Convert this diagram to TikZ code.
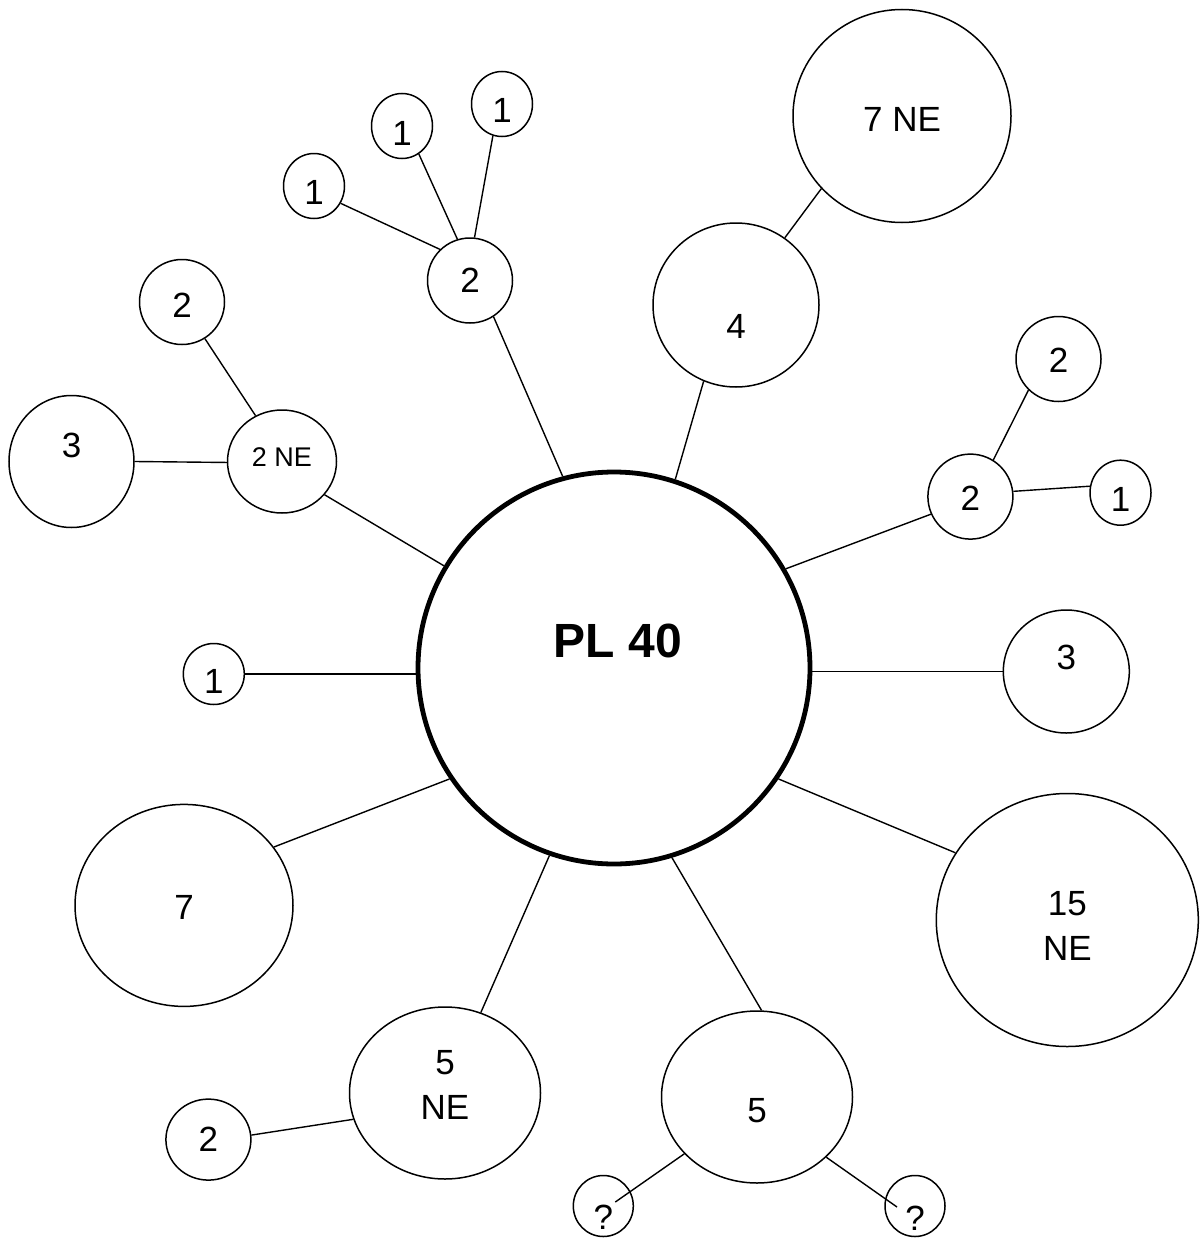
\documentclass[tikz,border=0pt]{standalone}
\usepackage{fontspec}
\setmainfont{Liberation Sans}
\usepackage{tikz}
\usetikzlibrary{calc, positioning, shapes.geometric}
\tikzset{
    hub/.style={circle, draw=black, line width=4.8pt, inner sep=0pt, minimum size=392pt},
    bubble/.style 2 args={ellipse, draw=black, line width=1.5pt, inner sep=0pt, minimum width=#1pt, minimum height=#2pt},
    lbl/.style={font=\fontsize{35}{45}\selectfont, align=center, inner sep=0pt},
    smalltxt/.style={font=\fontsize{27}{32}\selectfont},
    bigtxt/.style={font=\fontsize{48}{58}\selectfont\bfseries},
    txt/.style 2 args={label={[lbl, yshift={-1pt*(#2)}]center:{#1}}},
    conn/.style={line width=1.4pt}
}

\begin{document}
\begin{tikzpicture}[x=1pt, y=-1pt]
    \useasboundingbox (0,0) rectangle (1200,1239);

    % Centre
    \node[hub, label={[lbl, bigtxt, xshift=4pt, yshift=27pt]center:PL 40}] (pl) at (614,668) {};

    % Upper left branch
    \node[bubble={85}{85}, txt={2}{0}] (two) at (470,280.5) {};
    \node[bubble={61}{65}, txt={1}{6.5}] (oneA) at (314,186) {};
    \node[bubble={61}{65}, txt={1}{7}] (oneB) at (402,126) {};
    \node[bubble={61}{65}, txt={1}{6}] (oneC) at (502,104) {};
    \node[bubble={109}{103}, label={[lbl, smalltxt, yshift=4.5pt]center:2 NE}] (twoNE) at (282,461.5) {};
    \node[bubble={85}{85}, txt={2}{3}] (twoTL) at (182,302) {};
    \node[bubble={125}{132}, txt={3}{-16}] (threeL) at (71.5,461.5) {};

    % Upper right branch
    \node[bubble={166}{164}, txt={4}{21}] (four) at (736,305) {};
    \node[bubble={218}{213}, txt={7 NE}{3}] (sevenNE) at (902,116) {};
    \node[bubble={85}{85}, txt={2}{1.5}] (twoR) at (970.4,496.6) {};
    \node[bubble={85}{85}, txt={2}{1}] (twoUR) at (1058.5,359) {};
    \node[bubble={61}{65}, txt={1}{7}] (oneR) at (1120.5,492.7) {};

    % Left and lower branches
    \node[bubble={61}{61}, txt={1}{7}] (oneL) at (213.8,674) {};
    \node[bubble={218}{202}, txt={7}{2}] (seven) at (184,905.4) {};
    \node[bubble={191}{172}, txt={5\\NE}{-8}] (fiveNE) at (445,1093) {};
    \node[bubble={85}{81}, txt={2}{0}] (twoBL) at (208.4,1139.6) {};
    \node[bubble={191}{172}, txt={5}{14}] (five) at (757,1097) {};
    \node[bubble={60}{61}, txt={?}{11}] (qL) at (603.3,1206) {};
    \node[bubble={60}{61}, txt={?}{12}] (qR) at (915,1206) {};

    % Right branch
    \node[bubble={126}{123}, txt={3}{-14}] (threeR) at (1066.3,671.5) {};
    \node[bubble={262}{253}, txt={15\\NE}{6}] (fifteen) at (1067.3,920) {};

    % Connectors
    \draw[conn] (pl.105.6) -- (two.303);
    \draw[conn] (two.134.2) -- (oneA.327);
    \draw[conn] (two.107.8) -- (oneB.301.5);
    \draw[conn] (two.84.2) -- (oneC.254.7);
    \draw[conn] (pl.72.6) -- (four.247.6);
    \draw[conn] (four.54.9) -- (sevenNE.222.8);
    \draw[conn] (pl.149.6) -- (twoNE.322.6);
    \draw[conn] (twoNE.120.1) -- (twoTL.302.6);
    \draw[conn] (twoNE.181.5) -- (threeL.0);
    \draw[conn] (oneL.east -| pl.west) -- (oneL.east);
    \draw[conn] (pl.214.5) -- (seven.33.4);
    \draw[conn] (pl.251.8) -- (fiveNE.66.7);
    \draw[conn] (fiveNE.196.5) -- (twoBL.6.5);
    \draw[conn] (pl.287.6) -- (five.87.5);
    \draw[conn] (five.218.5) -- ($(qL)+(12,-4)$);
    \draw[conn] (five.319.6) -- ($(qR)+(-18,1)$);
    \draw[conn] (pl.326.1) -- (fifteen.149.1);
    \draw[conn] (threeR.west -| pl.east) -- (threeR.west);
    \draw[conn] (pl.30.2) -- (twoR.204.1);
    \draw[conn] (twoR.58.5) -- (twoUR.226.9);
    \draw[conn] (twoR.7.2) -- (oneR.168);
\end{tikzpicture}
\end{document}
